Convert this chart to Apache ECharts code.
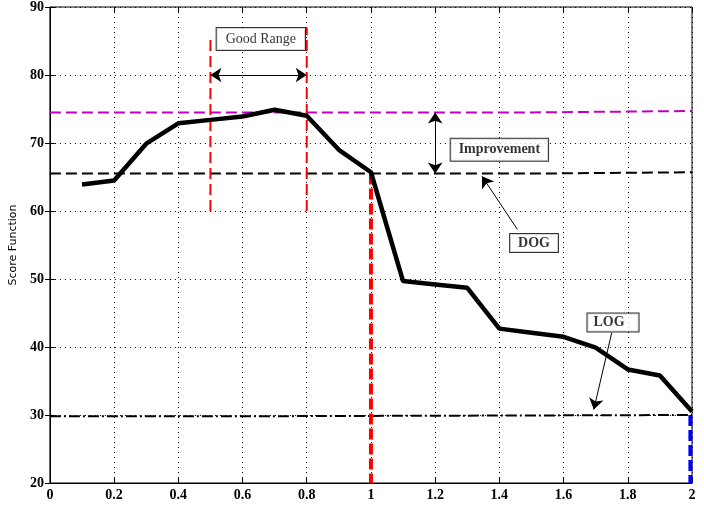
<!DOCTYPE html>
<html>
<head>
<meta charset="utf-8">
<script src="https://cdn.jsdelivr.net/npm/echarts@6/dist/echarts.min.js"></script>
<style>
  html, body { margin: 0; padding: 0; background: #fff; }
  #chart { width: 704px; height: 506px; }
</style>
</head>
<body>
<div id="chart"></div>
<script>
// score curve
var xs = [0.1, 0.2, 0.3, 0.4, 0.5, 0.6, 0.7, 0.8, 0.9, 1.0, 1.1, 1.2, 1.3, 1.4, 1.5, 1.6, 1.7, 1.8, 1.9, 2.0];
var scores = [63.9, 64.5, 69.9, 72.9, 73.4, 73.9, 74.9, 74.0, 69.0, 65.7, 49.7, 49.2, 48.7, 42.7, 42.1, 41.5, 39.9, 36.7, 35.8, 30.5];

// reference levels (small step near 1.5 as in the picture)
var bestLine = [[0, 74.5], [1.5, 74.5], [1.5, 74.7], [2, 74.7]];
var dogLine = [[0, 65.5], [1.5, 65.5], [1.5, 65.7], [2, 65.7]];
var logLine = [[0, 29.8], [0.5, 29.8], [0.5, 30.0], [2, 30.0]];

// vertical markers
var goodLeft = [[0.5, 60], [0.5, 85.5]];
var goodRight = [[0.8, 60], [0.8, 87]];
var redDrop = [[1.0, 65.5], [1.0, 20]];
var blueDrop = [[1.995, 30], [1.995, 20]];

// annotations
var boxes = [
  { text: "Good Range", pos: [0.657, 85.3], bold: false, pad: [4, 9, 4, 9] },
  { text: "Improvement", pos: [1.40, 69.0], bold: true, pad: [4, 8, 4, 8] },
  { text: "DOG", pos: [1.508, 55.3], bold: true, pad: [2, 8, 2, 8] },
  { text: "LOG", pos: [1.754, 43.6], bold: true, pad: [2, 14, 2, 6] }
];
var doubleArrows = [
  [[0.5, 80], [0.8, 80]],
  [[1.2, 65.5], [1.2, 74.5]]
];
var singleArrows = [
  [[1.456, 57.3], [1.346, 65.1]],
  [[1.75, 42.1], [1.694, 30.8]]
];

var serif = "Liberation Serif, Times New Roman, serif";

function vline(data, color, width, dash) {
  return {
    type: "line", data: data, symbol: "none", silent: true,
    lineStyle: { color: color, width: width, type: dash }, z: 3
  };
}

var chart = echarts.init(document.getElementById("chart"));
chart.setOption({
  animation: false,
  backgroundColor: "#fff",
  grid: { left: 47, right: 12, top: 5, bottom: 23, show: true, borderColor: "#000", borderWidth: 1 },
  xAxis: [{
    type: "value", min: 0, max: 2, interval: 0.2,
    axisLine: { lineStyle: { color: "#000" } },
    axisTick: { inside: true, length: 5, lineStyle: { color: "#000" } },
    axisLabel: { color: "#000", fontFamily: serif, fontWeight: "bold", fontSize: 14, margin: 5 },
    splitLine: { show: true, lineStyle: { color: "#000", type: [1, 4], width: 1 } }
  }, {
    type: "value", min: 0, max: 2, interval: 0.2, position: "top",
    axisLine: { show: false },
    axisTick: { inside: true, length: 5, lineStyle: { color: "#000" } },
    axisLabel: { show: false }, splitLine: { show: false }
  }],
  yAxis: [{
    type: "value", min: 20, max: 90, interval: 10,
    name: "Score Function", nameLocation: "middle", nameGap: 30,
    nameTextStyle: { color: "#000", fontFamily: "DejaVu Sans, sans-serif", fontSize: 11 },
    axisLine: { show: true, lineStyle: { color: "#000" } },
    axisTick: { inside: true, length: 5, lineStyle: { color: "#000" } },
    axisLabel: { color: "#000", fontFamily: serif, fontWeight: "bold", fontSize: 14, margin: 6 },
    splitLine: { show: true, lineStyle: { color: "#000", type: [1, 4], width: 1 } }
  }, {
    type: "value", min: 20, max: 90, interval: 10, position: "right",
    axisLine: { show: false },
    axisTick: { show: true, inside: true, length: 5, lineStyle: { color: "#000" } },
    axisLabel: { show: false }, splitLine: { show: false }
  }],
  series: [
    {
      type: "line", data: xs.map(function (x, i) { return [x, scores[i]]; }),
      symbol: "none", lineStyle: { color: "#000", width: 4.5 }, z: 5
    },
    vline(bestLine, "#c000c0", 2, [11, 5]),
    vline(dogLine, "#000", 2, [11, 5]),
    vline(logLine, "#000", 2, [11, 3, 2, 3]),
    vline(goodLeft, "#ff0000", 2, [11, 5]),
    vline(goodRight, "#ff0000", 2, [11, 5]),
    vline(redDrop, "#ff0000", 4, [11, 4]),
    vline(blueDrop, "#0000ff", 4, [11, 4]),
    {
      type: "lines", coordinateSystem: "cartesian2d", silent: true, z: 6,
      symbol: ["arrow", "arrow"], symbolSize: 11,
      lineStyle: { color: "#000", width: 1, opacity: 1 },
      data: doubleArrows.map(function (c) { return { coords: c }; })
    },
    {
      type: "lines", coordinateSystem: "cartesian2d", silent: true, z: 6,
      symbol: ["none", "arrow"], symbolSize: 11,
      lineStyle: { color: "#000", width: 1, opacity: 1 },
      data: singleArrows.map(function (c) { return { coords: c }; })
    },
    {
      type: "scatter", symbolSize: 0, silent: true, z: 10,
      data: boxes.map(function (b) {
        return {
          value: b.pos,
          label: {
            show: true, position: "inside", formatter: b.text,
            color: "#000", fontFamily: serif, fontSize: 14,
            fontWeight: b.bold ? "bold" : "normal",
            backgroundColor: "#fff", borderColor: "#000", borderWidth: 1,
            padding: b.pad
          }
        };
      })
    }
  ]
});
</script>
</body>
</html>
